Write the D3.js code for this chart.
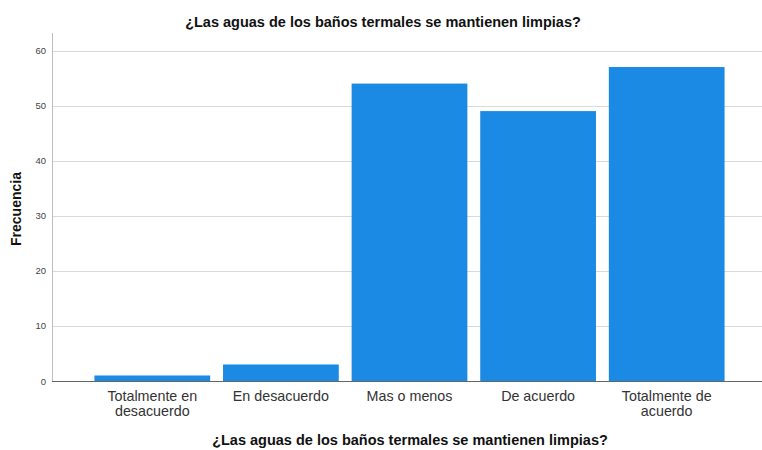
<!DOCTYPE html>
<html>
<head>
<meta charset="utf-8">
<script src="https://cdn.jsdelivr.net/npm/d3@7"></script>
<style>
  html, body { margin: 0; padding: 0; background: #fff; }
  svg { display: block; font-family: "Liberation Sans", Arial, sans-serif; }
</style>
</head>
<body>
<svg id="chart" width="762" height="450"></svg>
<script>
const categories = [["Totalmente en", "desacuerdo"], ["En desacuerdo"], ["Mas o menos"], ["De acuerdo"], ["Totalmente de", "acuerdo"]];
const categoryKeys = ["Totalmente en desacuerdo", "En desacuerdo", "Mas o menos", "De acuerdo", "Totalmente de acuerdo"];
const frequencies = [1, 3, 54, 49, 57];
const yTicks = [0, 10, 20, 30, 40, 50, 60];
const title = "¿Las aguas de los baños termales se mantienen limpias?";
const yLabel = "Frecuencia";

const svg = d3.select("#chart");
const x = d3.scaleBand().domain(categoryKeys).range([88, 731]).paddingInner(0.1).paddingOuter(0.05);
const y = d3.scaleLinear().domain([0, 60]).range([381, 50.5]);

// gridlines
svg.append("g").selectAll("line").data(yTicks.filter(d => d > 0)).join("line")
  .attr("x1", 53).attr("x2", 762)
  .attr("y1", d => Math.round(y(d)) + 0.5).attr("y2", d => Math.round(y(d)) + 0.5)
  .attr("stroke", "#d9d9d9").attr("stroke-width", 1);

// bars
svg.append("g").selectAll("rect").data(frequencies).join("rect")
  .attr("x", (d, i) => x(categoryKeys[i]))
  .attr("width", x.bandwidth())
  .attr("y", d => y(d))
  .attr("height", d => y(0) - y(d))
  .attr("fill", "#1b8ae5");

// y axis line
svg.append("line").attr("x1", 52.5).attr("x2", 52.5).attr("y1", 33).attr("y2", 381)
  .attr("stroke", "#bdbdbd").attr("stroke-width", 1);
// x axis line
svg.append("line").attr("x1", 52).attr("x2", 762).attr("y1", 381.5).attr("y2", 381.5)
  .attr("stroke", "#666").attr("stroke-width", 1);

// y tick labels
svg.append("g").selectAll("text").data(yTicks).join("text")
  .attr("x", 46).attr("y", d => y(d) + 3.5)
  .attr("text-anchor", "end").attr("font-size", 9.5).attr("fill", "#444")
  .text(d => d);

// x category labels
const xl = svg.append("g").selectAll("text").data(categories).join("text")
  .attr("text-anchor", "middle").attr("font-size", 14.3).attr("fill", "#333")
  .attr("x", (d, i) => x(categoryKeys[i]) + x.bandwidth() / 2)
  .attr("y", 401);
xl.selectAll("tspan").data(d => d).join("tspan")
  .attr("x", function() { return d3.select(this.parentNode).attr("x"); })
  .attr("dy", (d, j) => j === 0 ? 0 : 15)
  .text(d => d);

// titles
svg.append("text").attr("x", 383).attr("y", 27).attr("text-anchor", "middle")
  .attr("font-size", 14.5).attr("font-weight", "bold").attr("fill", "#111").text(title);
svg.append("text").attr("x", 410).attr("y", 445).attr("text-anchor", "middle")
  .attr("font-size", 14.5).attr("font-weight", "bold").attr("fill", "#111").text(title);
svg.append("text").attr("transform", "translate(21,209) rotate(-90)").attr("text-anchor", "middle")
  .attr("font-size", 14).attr("font-weight", "bold").attr("fill", "#111").text(yLabel);
</script>
</body>
</html>
